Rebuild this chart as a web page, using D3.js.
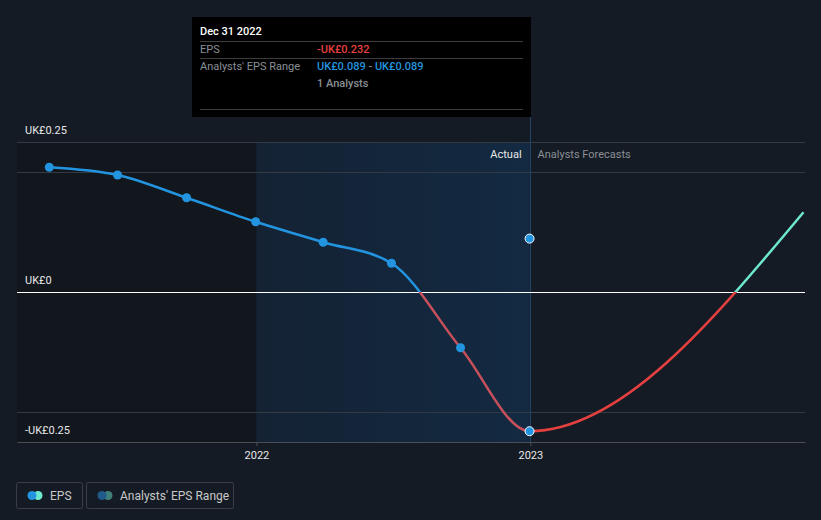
<!DOCTYPE html>
<html>
<head>
<meta charset="utf-8">
<script src="https://cdn.jsdelivr.net/npm/d3@7"></script>
<style>
  body { margin: 0; background: #151b24; }
  svg { display: block; font-family: Roboto, "Open Sans", sans-serif; }
</style>
</head>
<body>
<svg id="chart" width="821" height="520"></svg>
<script>
// actual EPS, quarter ends
var actualDates = ["2021-03-31", "2021-06-30", "2021-09-30", "2021-12-31",
                   "2022-03-31", "2022-06-30", "2022-09-30", "2022-12-31"];
var actualEps = [0.208, 0.195, 0.157, 0.117, 0.083, 0.048, -0.093, -0.232];

// analysts forecast
var forecastDates = ["2023-12-31"];
var forecastEps = [0.133];

var rangeDate = "2022-12-31";
var rangeLow = 0.089;
var rangeHigh = 0.089;

var yTickVals = [0.25, 0, -0.25];
var yTickLabels = ["UK£0.25", "UK£0", "-UK£0.25"];
var yGridVals = [0.25, 0.2, -0.2];
var xTickVals = ["2022-01-01", "2023-01-01"];
var xTickLabels = ["2022", "2023"];

var BG_COL = "#151b24";
var GRID_COL = "#343a43";
var TXT_COL = "#e8e8e8";
var DIM_COL = "#8a8f96";
var BLUE = "#2394df";
var TEAL = "#6ee7cf";
var RED = "#e5403f";
var RED_PAST = "#c8505b";

var svg = d3.select("#chart");
var parse = d3.utcParse("%Y-%m-%d");

var x = d3.scaleUtc()
    .domain([parse("2021-02-16"), parse("2024-01-02")])
    .range([17, 805]);

var y = d3.scaleLinear()
    .domain([-0.25, 0.25])
    .range([442, 142]);

var nowX = x(parse(rangeDate));

var actual = actualDates.map(function(d, i) { return {date: parse(d), eps: actualEps[i]}; });
var forecast = forecastDates.map(function(d, i) { return {date: parse(d), eps: forecastEps[i]}; });
var allPts = actual.concat(forecast);

// background bands
svg.append("rect")
    .attr("x", 0).attr("y", 0).attr("width", 821).attr("height", 520)
    .attr("fill", BG_COL);

svg.append("rect")
    .attr("x", x.range()[0]).attr("y", y(0.25))
    .attr("width", x(parse("2022-01-01")) - x.range()[0])
    .attr("height", y(-0.25) - y(0.25))
    .attr("fill", "#12161d");

var defs = svg.append("defs");
var grad = defs.append("linearGradient")
    .attr("id", "pastGrad")
    .attr("x1", 0).attr("x2", 1).attr("y1", 0).attr("y2", 0);
grad.append("stop").attr("offset", "0%").attr("stop-color", "#142234");
grad.append("stop").attr("offset", "100%").attr("stop-color", "#132a42");

svg.append("rect")
    .attr("x", x(parse("2022-01-01"))).attr("y", y(0.25))
    .attr("width", nowX - x(parse("2022-01-01")))
    .attr("height", y(-0.25) - y(0.25))
    .attr("fill", "url(#pastGrad)");

// grid
svg.selectAll(".grid")
    .data(yGridVals)
    .enter()
    .append("line")
    .attr("class", "grid")
    .attr("x1", x.range()[0]).attr("x2", x.range()[1])
    .attr("y1", d => Math.round(y(d)) + 0.5).attr("y2", d => Math.round(y(d)) + 0.5)
    .style("stroke", GRID_COL)
    .style("stroke-width", 1);

// x axis
var xAxis = d3.axisBottom(x)
    .tickValues(xTickVals.map(parse))
    .tickFormat(function(d, i) { return xTickLabels[i]; })
    .tickSize(4)
    .tickSizeOuter(0);

var xg = svg.append("g")
    .attr("transform", "translate(0," + y(-0.25) + ")")
    .call(xAxis);
xg.select(".domain").style("stroke", "#4a4f57");
xg.selectAll(".tick line").style("stroke", "#4a4f57");
xg.selectAll("text")
    .attr("dy", "0.71em")
    .attr("y", 9)
    .style("fill", TXT_COL)
    .style("font-size", "11px")
    .style("font-family", "Roboto, sans-serif");

// vertical line at today
svg.append("line")
    .attr("x1", Math.round(nowX) + 0.5).attr("x2", Math.round(nowX) + 0.5)
    .attr("y1", 117).attr("y2", y(-0.25))
    .style("stroke", "#224466")
    .style("stroke-width", 1);

// zero line
svg.append("line")
    .attr("x1", x.range()[0]).attr("x2", x.range()[1])
    .attr("y1", y(0) + 0.5).attr("y2", y(0) + 0.5)
    .style("stroke", "#ffffff")
    .style("stroke-width", 1);

// y labels
svg.selectAll(".yLbl")
    .data(yTickVals)
    .enter()
    .append("text")
    .attr("class", "yLbl")
    .attr("x", 25)
    .attr("y", d => y(d) - 8)
    .text(function(d, i) { return yTickLabels[i]; })
    .style("fill", TXT_COL)
    .style("font-size", "11px");

// Actual / forecasts labels
svg.append("text")
    .attr("x", nowX - 8).attr("y", 158)
    .attr("text-anchor", "end")
    .text("Actual")
    .style("fill", TXT_COL)
    .style("font-size", "11px");

svg.append("text")
    .attr("x", nowX + 8).attr("y", 158)
    .text("Analysts Forecasts")
    .style("fill", DIM_COL)
    .style("font-size", "11px");

// clip regions for line colours
function add_clip(id, x0, x1, y0, y1) {
    defs.append("clipPath").attr("id", id)
        .append("rect")
        .attr("x", x0).attr("y", y0)
        .attr("width", x1 - x0).attr("height", y1 - y0);
}
add_clip("clipPastPos", 0, nowX, 0, y(0));
add_clip("clipPastNeg", 0, nowX, y(0), 520);
add_clip("clipFcNeg", nowX, 805, y(0), 520);
add_clip("clipFcPos", nowX, 805, 0, y(0));

var line = d3.line()
    .x(d => x(d.date))
    .y(d => y(d.eps))
    .curve(d3.curveMonotoneX);

var clips = [["clipPastPos", BLUE], ["clipPastNeg", RED_PAST], ["clipFcNeg", RED], ["clipFcPos", TEAL]];
clips.forEach(function(c) {
    svg.append("path")
        .datum(allPts)
        .attr("d", line)
        .attr("clip-path", "url(#" + c[0] + ")")
        .style("fill", "none")
        .style("stroke", c[1])
        .style("stroke-width", 2.5);
});

// points
svg.selectAll(".pt")
    .data(actual.slice(0, actual.length - 1))
    .enter()
    .append("circle")
    .attr("class", "pt")
    .attr("cx", d => x(d.date))
    .attr("cy", d => y(d.eps))
    .attr("r", 4.5)
    .style("fill", BLUE);

var hoverPts = [actual[actual.length - 1], {date: parse(rangeDate), eps: rangeHigh}];
svg.selectAll(".hpt")
    .data(hoverPts)
    .enter()
    .append("circle")
    .attr("class", "hpt")
    .attr("cx", d => x(d.date))
    .attr("cy", d => y(d.eps))
    .attr("r", 4.5)
    .style("fill", BLUE)
    .style("stroke", "#ffffff")
    .style("stroke-width", 1);

// tooltip
var tip = svg.append("g");
tip.append("rect")
    .attr("x", 192).attr("y", 17).attr("width", 339).attr("height", 100)
    .attr("fill", "#000000");

[41, 58, 109].forEach(function(ly) {
    tip.append("line")
        .attr("x1", 200).attr("x2", 523)
        .attr("y1", ly + 0.5).attr("y2", ly + 0.5)
        .style("stroke", "#3d3d3d");
});

tip.append("text").attr("x", 200).attr("y", 35)
    .text("Dec 31 2022")
    .style("fill", "#ffffff").style("font-size", "11px").style("font-weight", 500);

tip.append("text").attr("x", 200).attr("y", 53)
    .text("EPS")
    .style("fill", DIM_COL).style("font-size", "11px");

tip.append("text").attr("x", 317).attr("y", 53)
    .text("-UK£" + Math.abs(actualEps[actualEps.length - 1]).toFixed(3))
    .style("fill", "#e5403f").style("font-size", "11px").style("font-weight", 500);

tip.append("text").attr("x", 200).attr("y", 70)
    .text("Analysts' EPS Range")
    .style("fill", DIM_COL).style("font-size", "11px");

var rng = tip.append("text").attr("x", 317).attr("y", 70)
    .style("font-size", "11px").style("font-weight", 500);
rng.append("tspan").text("UK£" + rangeLow.toFixed(3)).style("fill", BLUE);
rng.append("tspan").text(" - ").style("fill", DIM_COL);
rng.append("tspan").text("UK£" + rangeHigh.toFixed(3)).style("fill", BLUE);

tip.append("text").attr("x", 317).attr("y", 87)
    .text("1 Analysts")
    .style("fill", DIM_COL).style("font-size", "11px").style("font-weight", 500);

// legend
function add_legend(bx, bw, label, c1, c2) {
    var g = svg.append("g");
    g.append("rect")
        .attr("x", bx + 0.5).attr("y", 482.5).attr("width", bw).attr("height", 26)
        .attr("rx", 2)
        .style("fill", "none")
        .style("stroke", "#3a3f47");
    g.append("circle").attr("cx", bx + 22).attr("cy", 495.5).attr("r", 4.5).style("fill", c2);
    g.append("circle").attr("cx", bx + 16).attr("cy", 495.5).attr("r", 4.5).style("fill", c1);
    g.append("text")
        .attr("x", bx + 34).attr("y", 499.5)
        .text(label)
        .style("fill", "#c8c8c8")
        .style("font-size", "12px");
}
add_legend(16, 66, "EPS", BLUE, TEAL);
add_legend(86, 147, "Analysts' EPS Range", "#1f5a8a", "#3e7f7a");
</script>
</body>
</html>
